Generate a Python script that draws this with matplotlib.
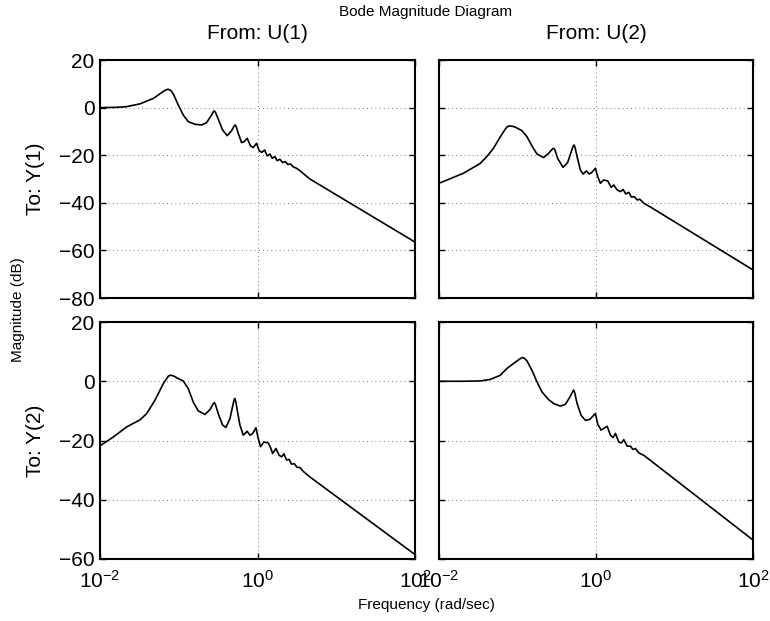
import numpy as np
import matplotlib
matplotlib.use('Agg')
import matplotlib.pyplot as plt

plt.rcParams['font.family'] = ['Liberation Sans', 'DejaVu Sans']
plt.rcParams['mathtext.fontset'] = 'custom'
plt.rcParams['mathtext.rm'] = 'Liberation Sans'
plt.rcParams['mathtext.it'] = 'Liberation Sans'

# log10(frequency) / magnitude (dB)
# From U(1) -> Y(1)
lw11 = [-2.0, -1.8, -1.66, -1.49, -1.32, -1.2, -1.16, -1.133, -1.1, -1.07, -1.006, -0.943, -0.879,
        -0.794, -0.709, -0.646, -0.583, -0.56, -0.549, -0.535, -0.511, -0.443, -0.384, -0.329,
        -0.295, -0.283, -0.27, -0.245, -0.202, -0.169, -0.131, -0.088, -0.055, -0.012, 0.022,
        0.056, 0.09, 0.123, 0.157, 0.187, 0.221, 0.25, 0.284, 0.318, 0.352, 0.386, 0.419,
        0.453, 0.496, 0.538, 0.665, 2.0]
db11 = [0.0, 0.1, 0.4, 1.6, 3.9, 6.7, 7.5, 7.7, 7.2, 5.8, 1.1, -3.1, -5.9,
        -7.0, -7.3, -6.3, -3.1, -1.7, -1.4, -1.9, -3.8, -9.4, -11.8, -9.7,
        -7.6, -7.3, -8.0, -10.8, -14.7, -14.3, -12.9, -16.1, -16.8, -15.0, -18.2,
        -18.8, -17.8, -20.3, -19.5, -21.3, -20.6, -22.3, -21.7, -23.1, -22.7, -23.9, -23.7,
        -24.9, -25.5, -26.5, -30.0, -56.5]

# From U(2) -> Y(1)
lw12 = [-2.0, -1.69, -1.476, -1.391, -1.306, -1.221, -1.157, -1.13, -1.102, -1.07, -1.029, -0.944,
        -0.88, -0.816, -0.752, -0.668, -0.604, -0.555, -0.54, -0.525, -0.489, -0.42, -0.361,
        -0.305, -0.29, -0.28, -0.268, -0.241, -0.199, -0.165, -0.122, -0.088, -0.055, -0.008,
        0.022, 0.056, 0.098, 0.149, 0.193, 0.226, 0.269, 0.312, 0.346, 0.379, 0.418, 0.452,
        0.487, 0.525, 0.558, 0.609, 0.695, 2.0]
db12 = [-31.8, -27.6, -23.5, -20.6, -17.1, -12.4, -9.1, -8.0, -7.7, -7.8, -8.2, -9.7,
        -12.2, -16.1, -19.5, -21.0, -19.2, -17.4, -17.1, -17.6, -21.3, -25.1, -23.1,
        -17.5, -16.1, -15.7, -16.6, -20.6, -26.2, -27.9, -26.6, -27.9, -27.3, -25.5,
        -29.0, -31.8, -30.4, -30.8, -33.5, -32.5, -34.6, -35.3, -34.4, -36.3, -35.6, -37.6,
        -37.4, -38.8, -38.5, -40.2, -41.8, -68.2]

# From U(1) -> Y(2)
lw21 = [-2.0, -1.83, -1.66, -1.49, -1.407, -1.302, -1.196, -1.133, -1.11, -1.09, -1.06, -1.027,
        -0.943, -0.879, -0.816, -0.752, -0.668, -0.604, -0.56, -0.549, -0.535, -0.499, -0.443,
        -0.401, -0.35, -0.308, -0.295, -0.287, -0.275, -0.257, -0.223, -0.181, -0.131, -0.096,
        -0.062, -0.02, 0.009, 0.039, 0.081, 0.136, 0.166, 0.192, 0.234, 0.275, 0.306, 0.335,
        0.369, 0.402, 0.433, 0.466, 0.504, 0.538, 0.58, 0.665, 2.0]
db21 = [-21.8, -18.8, -15.4, -13.0, -10.9, -6.4, -0.8, 1.7, 2.0, 2.0, 1.7, 1.2,
        0.1, -2.5, -7.0, -10.0, -11.2, -9.6, -7.5, -7.2, -7.8, -10.9, -14.8,
        -15.6, -12.6, -7.5, -6.1, -5.8, -6.9, -9.8, -14.8, -18.2, -16.9, -18.2,
        -17.7, -15.7, -19.3, -22.1, -20.5, -20.8, -22.4, -24.4, -22.7, -25.0, -25.5, -24.5,
        -26.6, -26.4, -28.0, -27.8, -29.1, -29.1, -30.4, -32.3, -58.5]

# From U(2) -> Y(2)
lw22 = [-2.0, -1.7, -1.476, -1.349, -1.221, -1.135, -1.051, -0.966, -0.945, -0.931, -0.91, -0.88,
        -0.816, -0.752, -0.688, -0.604, -0.54, -0.455, -0.391, -0.336, -0.295, -0.285, -0.272,
        -0.241, -0.19, -0.135, -0.08, -0.008, 0.022, 0.065, 0.142, 0.184, 0.218, 0.248,
        0.29, 0.324, 0.354, 0.397, 0.44, 0.469, 0.503, 0.546, 0.609, 0.673, 2.0]
db22 = [0.0, 0.0, 0.1, 0.6, 2.0, 4.3, 6.0, 7.6, 7.9, 8.0, 7.7, 6.9,
        3.7, -0.2, -3.6, -6.2, -7.5, -8.4, -7.8, -5.5, -3.4, -3.0, -3.8,
        -7.5, -11.5, -13.2, -12.9, -10.9, -14.5, -16.5, -15.2, -18.2, -19.0, -17.6,
        -20.5, -20.8, -19.7, -21.9, -21.9, -23.0, -22.7, -24.2, -25.0, -26.3, -53.6]

col_titles = ['From: U(1)', 'From: U(2)']
row_labels = ['To: Y(1)', 'To: Y(2)']
yticks_top = [-80, -60, -40, -20, 0, 20]
yticks_bot = [-60, -40, -20, 0, 20]
xticks = [1e-2, 1e0, 1e2]

W, H = 770, 621
fig = plt.figure(figsize=(W / 100, H / 100), dpi=100)

def px_axes(x0, y0, x1, y1):
    return fig.add_axes([x0 / W, 1 - y1 / H, (x1 - x0) / W, (y1 - y0) / H])

axs = [[px_axes(100, 60, 415, 298), px_axes(439, 60, 753, 298)],
       [px_axes(100, 322, 415, 559), px_axes(439, 322, 753, 559)]]

data = [[(lw11, db11), (lw12, db12)], [(lw21, db21), (lw22, db22)]]

for r in range(2):
    for c in range(2):
        ax = axs[r][c]
        lw, db = data[r][c]
        ax.semilogx(10 ** np.array(lw), db, color='black', lw=1.2)
        ax.set_xlim(1e-2, 1e2)
        if r == 0:
            ax.set_ylim(-80, 20)
            ax.set_yticks(yticks_top)
        else:
            ax.set_ylim(-60, 20)
            ax.set_yticks(yticks_bot)
        ax.set_xticks(xticks)
        ax.xaxis.set_minor_locator(matplotlib.ticker.NullLocator())
        ax.set_xticklabels([r'$10^{-2}$', r'$10^{0}$', r'$10^{2}$'])
        ax.grid(True, which='major', linestyle=(0, (1, 4)), color='black',
                lw=0.6, alpha=0.7)
        ax.tick_params(direction='in', length=4, width=1, labelsize=15,
                       top=True, right=True, pad=4)
        ax.tick_params(axis='x', pad=8)
        for s in ax.spines.values():
            s.set_linewidth(1.5)
        if r == 0:
            ax.tick_params(labelbottom=False)
            ax.set_title(col_titles[c], fontsize=15, pad=15)
        if c == 1:
            ax.tick_params(labelleft=False)
        else:
            ax.set_ylabel(row_labels[r], fontsize=15, labelpad=10)

fig.text(426 / W, 1 - 12 / H, 'Bode Magnitude Diagram', ha='center', va='center', fontsize=11)
fig.text(426 / W, 1 - 605 / H, 'Frequency (rad/sec)', ha='center', va='center', fontsize=11)
fig.text(18 / W, 1 - 310 / H, 'Magnitude (dB)', ha='center', va='center',
         rotation=90, fontsize=11)

fig.savefig('out.png', dpi=100)
